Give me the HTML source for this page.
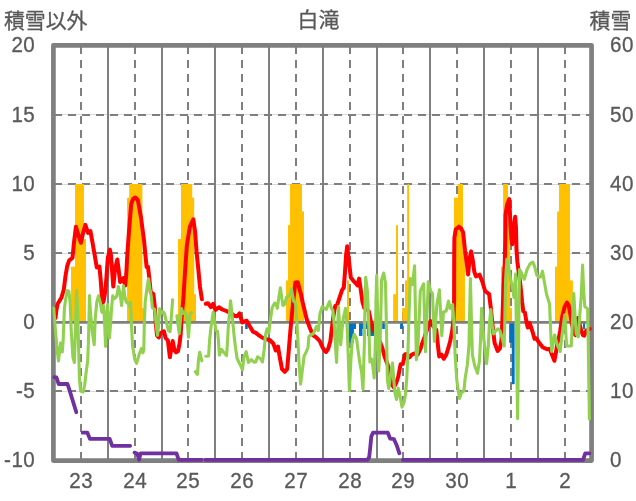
<!DOCTYPE html>
<html lang="ja"><head><meta charset="utf-8"><title>白滝</title>
<style>
html,body{margin:0;padding:0;background:#fff;}
body{width:636px;height:501px;overflow:hidden;}
svg{display:block;}
.t{font-family:"Liberation Sans","Noto Sans CJK JP",sans-serif;fill:#595959;stroke:#595959;stroke-width:0.3px;}
.n{font-size:20.6px;letter-spacing:0.5px;}
.k{font-size:20.9px;}
</style></head><body>
<svg width="636" height="501" viewBox="0 0 636 501">
<rect x="0" y="0" width="636" height="501" fill="#ffffff"/>
<g stroke="#d9d9d9" stroke-width="1" fill="none">
<line x1="53.4" y1="114.50" x2="591.5" y2="114.50"/>
<line x1="53.4" y1="184.50" x2="591.5" y2="184.50"/>
<line x1="53.4" y1="253.50" x2="591.5" y2="253.50"/>
<line x1="53.4" y1="391.50" x2="591.5" y2="391.50"/>
</g>
<g fill="#ffc000" stroke="none">
<rect x="71.20" y="266.80" width="4.00" height="55.20"/>
<rect x="75.20" y="184.00" width="8.60" height="138.00"/>
<rect x="83.80" y="239.20" width="2.10" height="82.80"/>
<rect x="127.30" y="197.80" width="2.10" height="124.20"/>
<rect x="129.40" y="184.00" width="12.80" height="138.00"/>
<rect x="142.20" y="308.20" width="1.70" height="13.80"/>
<rect x="178.10" y="239.20" width="2.90" height="82.80"/>
<rect x="181.00" y="184.00" width="11.10" height="138.00"/>
<rect x="192.10" y="197.80" width="2.00" height="124.20"/>
<rect x="194.10" y="294.40" width="1.80" height="27.60"/>
<rect x="286.20" y="280.60" width="1.80" height="41.40"/>
<rect x="288.00" y="225.40" width="2.20" height="96.60"/>
<rect x="290.20" y="184.00" width="11.60" height="138.00"/>
<rect x="301.80" y="211.60" width="2.10" height="110.40"/>
<rect x="347.00" y="280.60" width="1.90" height="41.40"/>
<rect x="393.40" y="294.40" width="2.60" height="27.60"/>
<rect x="396.00" y="225.40" width="2.00" height="96.60"/>
<rect x="402.30" y="308.20" width="2.90" height="13.80"/>
<rect x="405.20" y="280.60" width="2.20" height="41.40"/>
<rect x="407.40" y="184.00" width="1.70" height="138.00"/>
<rect x="454.20" y="197.80" width="3.90" height="124.20"/>
<rect x="458.10" y="184.00" width="4.80" height="138.00"/>
<rect x="462.90" y="253.00" width="1.90" height="69.00"/>
<rect x="501.10" y="266.80" width="2.20" height="55.20"/>
<rect x="503.30" y="184.00" width="4.60" height="138.00"/>
<rect x="507.90" y="211.60" width="2.20" height="110.40"/>
<rect x="510.10" y="308.20" width="1.80" height="13.80"/>
<rect x="555.00" y="266.80" width="2.30" height="55.20"/>
<rect x="557.30" y="211.60" width="1.90" height="110.40"/>
<rect x="559.20" y="184.00" width="10.60" height="138.00"/>
<rect x="569.80" y="280.60" width="2.90" height="41.40"/>
</g>
<g fill="#0070c0" stroke="none">
<rect x="245.30" y="322.00" width="2.20" height="6.90"/>
<rect x="348.80" y="322.00" width="4.90" height="20.70"/>
<rect x="353.70" y="322.00" width="2.20" height="6.90"/>
<rect x="359.10" y="322.00" width="3.20" height="13.80"/>
<rect x="362.30" y="322.00" width="4.70" height="6.90"/>
<rect x="367.00" y="322.00" width="7.00" height="13.80"/>
<rect x="382.40" y="322.00" width="2.30" height="6.90"/>
<rect x="400.30" y="322.00" width="2.50" height="6.90"/>
<rect x="509.40" y="322.00" width="2.50" height="20.70"/>
<rect x="511.90" y="322.00" width="2.50" height="62.10"/>
<rect x="583.20" y="322.00" width="1.80" height="6.90"/>
</g>
<g stroke="#7f7f7f" fill="none">
<line x1="54.00" y1="115.00" x2="591.55" y2="115.00" stroke-width="2" stroke-dasharray="8 6"/>
<line x1="54.00" y1="184.00" x2="591.55" y2="184.00" stroke-width="2" stroke-dasharray="8 6"/>
<line x1="54.00" y1="253.00" x2="591.55" y2="253.00" stroke-width="2" stroke-dasharray="8 6"/>
<line x1="54.00" y1="391.00" x2="591.55" y2="391.00" stroke-width="2" stroke-dasharray="8 6"/>
<line x1="53.40" y1="322.40" x2="591.55" y2="322.40" stroke-width="2.8"/>
<line x1="81.00" y1="46.00" x2="81.00" y2="460.55" stroke-width="2" stroke-dasharray="8 6"/>
<line x1="108.00" y1="45.35" x2="108.00" y2="460.55" stroke-width="2"/>
<line x1="135.00" y1="46.00" x2="135.00" y2="460.55" stroke-width="2" stroke-dasharray="8 6"/>
<line x1="162.00" y1="45.35" x2="162.00" y2="460.55" stroke-width="2"/>
<line x1="188.00" y1="46.00" x2="188.00" y2="460.55" stroke-width="2" stroke-dasharray="8 6"/>
<line x1="215.00" y1="45.35" x2="215.00" y2="460.55" stroke-width="2"/>
<line x1="242.00" y1="46.00" x2="242.00" y2="460.55" stroke-width="2" stroke-dasharray="8 6"/>
<line x1="269.00" y1="45.35" x2="269.00" y2="460.55" stroke-width="2"/>
<line x1="296.00" y1="46.00" x2="296.00" y2="460.55" stroke-width="2" stroke-dasharray="8 6"/>
<line x1="323.00" y1="45.35" x2="323.00" y2="460.55" stroke-width="2"/>
<line x1="350.00" y1="46.00" x2="350.00" y2="460.55" stroke-width="2" stroke-dasharray="8 6"/>
<line x1="377.00" y1="45.35" x2="377.00" y2="460.55" stroke-width="2"/>
<line x1="403.00" y1="46.00" x2="403.00" y2="460.55" stroke-width="2" stroke-dasharray="8 6"/>
<line x1="430.00" y1="45.35" x2="430.00" y2="460.55" stroke-width="2"/>
<line x1="457.00" y1="46.00" x2="457.00" y2="460.55" stroke-width="2" stroke-dasharray="8 6"/>
<line x1="484.00" y1="45.35" x2="484.00" y2="460.55" stroke-width="2"/>
<line x1="511.00" y1="46.00" x2="511.00" y2="460.55" stroke-width="2" stroke-dasharray="8 6"/>
<line x1="538.00" y1="45.35" x2="538.00" y2="460.55" stroke-width="2"/>
<line x1="565.00" y1="46.00" x2="565.00" y2="460.55" stroke-width="2" stroke-dasharray="8 6"/>
</g>
<g fill="#ffc000" stroke="none">
<rect x="71.20" y="266.80" width="4.00" height="54.20"/>
<rect x="75.20" y="184.00" width="8.60" height="137.00"/>
<rect x="83.80" y="239.20" width="2.10" height="81.80"/>
<rect x="127.30" y="197.80" width="2.10" height="123.20"/>
<rect x="129.40" y="184.00" width="12.80" height="137.00"/>
<rect x="142.20" y="308.20" width="1.70" height="12.80"/>
<rect x="178.10" y="239.20" width="2.90" height="81.80"/>
<rect x="181.00" y="184.00" width="11.10" height="137.00"/>
<rect x="192.10" y="197.80" width="2.00" height="123.20"/>
<rect x="194.10" y="294.40" width="1.80" height="26.60"/>
<rect x="286.20" y="280.60" width="1.80" height="40.40"/>
<rect x="288.00" y="225.40" width="2.20" height="95.60"/>
<rect x="290.20" y="184.00" width="11.60" height="137.00"/>
<rect x="301.80" y="211.60" width="2.10" height="109.40"/>
<rect x="347.00" y="280.60" width="1.90" height="40.40"/>
<rect x="393.40" y="294.40" width="2.60" height="26.60"/>
<rect x="396.00" y="225.40" width="2.00" height="95.60"/>
<rect x="402.30" y="308.20" width="2.90" height="12.80"/>
<rect x="405.20" y="280.60" width="2.20" height="40.40"/>
<rect x="407.40" y="184.00" width="1.70" height="137.00"/>
<rect x="454.20" y="197.80" width="3.90" height="123.20"/>
<rect x="458.10" y="184.00" width="4.80" height="137.00"/>
<rect x="462.90" y="253.00" width="1.90" height="68.00"/>
<rect x="501.10" y="266.80" width="2.20" height="54.20"/>
<rect x="503.30" y="184.00" width="4.60" height="137.00"/>
<rect x="507.90" y="211.60" width="2.20" height="109.40"/>
<rect x="510.10" y="308.20" width="1.80" height="12.80"/>
<rect x="555.00" y="266.80" width="2.30" height="54.20"/>
<rect x="557.30" y="211.60" width="1.90" height="109.40"/>
<rect x="559.20" y="184.00" width="10.60" height="137.00"/>
<rect x="569.80" y="280.60" width="2.90" height="40.40"/>
</g>
<g fill="#0070c0" stroke="none">
<rect x="245.30" y="323.80" width="2.20" height="5.10"/>
<rect x="348.80" y="323.80" width="4.90" height="18.90"/>
<rect x="353.70" y="323.80" width="2.20" height="5.10"/>
<rect x="359.10" y="323.80" width="3.20" height="12.00"/>
<rect x="362.30" y="323.80" width="4.70" height="5.10"/>
<rect x="367.00" y="323.80" width="7.00" height="12.00"/>
<rect x="382.40" y="323.80" width="2.30" height="5.10"/>
<rect x="400.30" y="323.80" width="2.50" height="5.10"/>
<rect x="509.40" y="323.80" width="2.50" height="18.90"/>
<rect x="511.90" y="323.80" width="2.50" height="60.30"/>
<rect x="583.20" y="323.80" width="1.80" height="5.10"/>
</g>
<rect x="53.40" y="45.35" width="538.15" height="415.20" fill="none" stroke="#7f7f7f" stroke-width="4.7" stroke-linejoin="round"/>
<g fill="none" stroke-linejoin="round" stroke-linecap="round">
<polyline stroke="#7030a0" stroke-width="3.8" points="54.3,377.2 56.5,377.5 58.6,384.0 67.5,384.0 69.9,391.4 76.3,412.2"/>
<polyline stroke="#7030a0" stroke-width="3.8" points="82.7,432.7 87.4,432.7 89.9,438.9 109.7,438.9 112.2,445.8 130.2,445.8"/>
<polyline stroke="#7030a0" stroke-width="3.8" points="134.5,452.6 137.3,453.8 139.1,459.8 140.5,453.4 176.5,453.3 178.7,459.8 201.7,459.8"/>
<polyline stroke="#7030a0" stroke-width="3.8" points="205.5,459.8 367.6,459.8 369.2,457.0 370.3,447.0 371.3,436.5 373.0,432.7 387.8,432.7 390.2,438.7 394.0,439.2 397.0,446.1 399.4,453.3"/>
<polyline stroke="#7030a0" stroke-width="3.8" points="402.9,459.8 583.1,459.8 585.2,453.3 589.4,453.3"/>
<polyline stroke="#ff0000" stroke-width="4.0" points="55.5,318.0 56.4,310.0 57.6,304.0 61.5,297.5 63.8,289.5 65.5,276.0 67.2,266.0 69.2,260.3 72.5,257.9 73.9,243.3 75.9,226.8 78.1,233.9 80.9,242.8 83.3,232.0 85.4,224.9 88.0,232.9 90.4,231.0 92.3,241.4 94.6,254.6 96.8,267.5 99.4,266.5 100.8,281.0 102.3,303.5 103.8,300.5 105.3,291.0 106.4,278.0 107.8,258.0 109.9,249.6 111.0,255.5 112.2,272.0 113.3,286.6 115.0,269.5 117.3,259.5 118.5,268.4 120.1,282.0 121.8,280.3 123.4,278.1 125.2,285.5 126.3,274.0 127.3,255.0 128.5,238.0 129.6,224.0 131.2,204.0 133.0,199.0 135.2,197.5 137.8,200.0 141.0,217.4 142.9,232.0 144.2,242.0 145.6,257.0 146.6,267.0 148.0,266.8 149.3,278.0 150.7,292.0 153.4,294.0 154.8,307.0 155.9,324.0 157.0,335.5 158.8,337.5 160.4,333.2 162.1,332.2 163.9,331.3 165.6,338.0 167.9,340.5 169.9,357.2 171.3,349.0 172.7,341.0 174.5,350.5 176.1,352.3 178.0,351.0 179.6,343.5 180.7,334.0 181.6,318.0 183.5,297.0 185.0,272.0 186.9,245.0 189.9,226.5 193.3,219.4 195.0,231.0 196.6,252.0 198.4,270.0 200.0,287.0 201.9,299.2"/>
<polyline stroke="#ff0000" stroke-width="4.0" points="205.8,303.8 208.0,303.2 210.9,307.2 213.2,303.8 215.4,310.0 218.9,307.2 222.3,309.5 226.8,311.2 231.4,313.4 234.2,315.7 237.1,316.3 239.6,313.4 242.2,322.5 244.5,321.4 246.7,320.8 249.6,326.0 253.0,331.6 255.8,332.8 259.0,335.3 262.0,337.5 265.4,339.0 269.7,340.0 273.3,343.5 275.8,350.5 278.0,346.5 279.8,357.5 282.0,369.0 284.8,371.8 287.2,369.0 288.8,350.0 290.4,330.5 292.0,313.5 293.7,297.0 295.4,282.5 297.8,282.2 299.5,289.0 301.0,294.5 302.7,302.5 304.6,310.5 306.7,319.3 309.7,327.5 312.8,335.0 316.2,337.3 319.7,341.0 322.6,347.5 324.8,351.0 326.0,352.0 328.2,348.8 330.4,341.0 331.6,330.5 333.5,315.7 335.2,306.0 336.9,305.5 339.2,298.7 342.0,290.1 343.8,287.5 345.0,271.8 346.1,254.8 347.2,246.2 348.9,260.4 350.8,277.5 353.4,280.9 356.3,283.8 357.6,285.5 359.1,278.6 360.3,286.5 362.5,302.1 364.2,307.8 365.9,308.9 368.8,311.2 371.1,322.5 373.3,330.5 375.5,332.5 377.3,334.0 380.2,342.6 382.4,348.2 384.7,357.0 387.6,364.5 389.4,372.1 391.2,383.5 393.8,387.5 396.2,383.0 398.3,376.5 400.6,364.3 402.8,364.0 405.1,354.2 406.9,354.0 409.6,357.3 411.9,354.5 414.7,353.4 417.8,354.5 420.4,349.0 422.1,343.7 424.4,337.5 426.4,331.5 428.6,325.0 430.5,321.0 433.0,326.0 436.3,329.8 437.9,345.0 439.2,356.5 441.5,354.7 443.8,358.8 446.2,354.8 448.3,348.2 450.2,341.0 452.2,331.0 453.5,320.0 454.1,300.0 454.2,260.0 454.4,238.0 455.7,229.6 458.9,226.7 461.2,228.6 463.1,232.4 465.0,250.3 466.9,264.5 468.1,274.5 469.7,258.0 471.1,251.4 472.8,260.4 474.3,271.8 476.0,276.4 479.5,274.7 482.3,281.5 485.1,291.0 489.1,294.1 490.8,307.8 492.5,325.0 494.6,343.0 497.7,351.0 500.0,348.2 501.5,340.0 502.3,322.0 503.0,302.0 503.8,280.0 504.8,262.0 505.3,240.0 505.5,215.0 507.0,205.0 509.3,199.0 510.0,214.0 510.6,228.0 511.3,238.0 512.2,244.2 513.2,236.0 514.2,224.0 515.2,216.8 516.0,228.0 516.5,250.0 517.4,262.0 518.8,273.0 520.4,285.0 522.1,302.0 523.3,311.2 524.9,312.5 526.6,322.5 527.8,327.5 529.4,322.8 531.2,327.5 532.9,333.0 534.5,338.8 536.2,338.2 539.2,342.8 542.7,347.2 547.0,349.3 549.9,348.9 552.1,355.1 554.4,360.8 556.1,351.7 557.4,343.0 558.8,338.0 560.2,330.5 562.4,315.7 564.7,306.6 566.9,302.6 568.6,304.9 570.4,314.6 572.1,324.8 573.8,332.8 575.5,335.1 576.6,322.5 578.0,318.0 579.5,323.7 581.2,330.5 582.9,335.1 584.3,335.6 586.3,330.5 588.0,329.9 589.7,328.8"/>
<polyline stroke="#92d050" stroke-width="3.1" points="53.8,308.0 55.0,325.0 57.0,349.0 58.5,361.0 59.8,349.0 60.6,343.0 61.4,345.0 62.3,352.0 63.2,340.0 64.4,308.0 66.1,296.5 67.4,290.5 68.9,291.3 70.1,302.0 71.2,330.0 72.9,357.0 74.4,362.5 75.4,330.0 76.5,290.5 77.6,310.0 78.4,340.0 79.4,378.0 80.6,391.0 83.2,392.0 84.6,385.5 86.2,372.0 87.7,360.5 88.5,340.0 89.5,295.5 90.6,314.0 92.2,331.0 94.2,344.8 95.2,319.0 96.8,302.0 98.5,295.8 100.2,302.0 101.9,312.3 103.6,305.5 104.7,325.0 105.6,346.5 106.6,319.0 107.6,304.3 108.7,325.0 109.5,338.0 110.5,325.0 111.6,307.8 112.7,295.8 114.4,298.7 116.7,296.4 118.4,286.5 120.1,294.0 121.6,305.5 122.6,296.0 123.5,285.8 124.8,296.4 126.3,302.0 128.0,303.4 129.7,306.6 130.6,302.1 131.4,324.0 132.6,346.0 134.8,359.6 136.6,363.4 139.3,353.9 141.5,348.4 142.9,352.8 143.8,350.0 144.3,325.0 145.2,302.0 146.7,290.0 148.5,278.8 149.9,288.4 151.3,296.4 152.4,307.8 154.7,309.5 156.2,324.8 157.5,335.3 158.7,324.8 159.6,308.9 161.0,313.4 162.7,311.7 164.4,313.4 166.6,322.5 168.3,330.5 170.1,331.6 171.2,319.1 172.6,299.8"/>
<polyline stroke="#92d050" stroke-width="3.1" points="176.9,315.7 179.2,333.6 181.4,308.6 183.3,313.4 185.6,312.4 187.1,320.0 188.5,337.3 190.2,313.4 191.6,312.5"/>
<polyline stroke="#92d050" stroke-width="3.1" points="195.2,371.6 197.5,374.4 198.4,360.8 199.7,352.2 200.7,356.2 201.8,360.8"/>
<polyline stroke="#92d050" stroke-width="3.1" points="205.8,356.2 208.6,356.0 209.6,340.0 210.9,328.2 213.2,312.3 214.9,323.7 216.0,330.5 217.5,331.1 218.4,340.0 219.4,355.1 221.7,349.4 224.0,352.8 226.6,355.6 227.6,340.0 228.4,324.8 230.6,300.9 232.5,319.1 234.3,337.5 235.5,347.5 237.1,358.5 239.9,364.2 242.5,369.9 243.9,357.3 246.2,351.7 248.4,362.5 251.3,359.6 254.1,362.1 255.7,362.0 257.6,356.8 260.3,358.5 262.5,361.9 264.2,349.4 265.2,338.0 266.0,332.5 267.1,328.8 268.8,332.8 270.5,319.1 272.2,307.8 274.5,303.2 276.2,303.8 277.3,308.3 279.0,296.4 280.4,287.8 281.9,298.7 283.0,305.5 284.7,304.3 286.4,297.5 288.7,295.8 290.4,293.5 291.5,289.0 292.7,296.4 293.8,301.5 295.5,302.6 296.7,319.1 297.8,338.0 298.9,360.8 300.6,384.1 302.4,369.9 304.1,356.2 306.3,351.7 308.0,347.5 308.9,336.5 310.9,334.5 313.2,333.9 314.9,330.5 316.3,326.5 318.3,330.5 320.0,313.4 322.3,306.6 324.5,308.3 326.4,309.3 327.8,305.5 329.5,301.5 331.2,307.8 332.9,310.6 334.3,325.0 335.4,345.0 336.6,362.5 337.5,335.0 338.5,306.6 339.5,325.0 340.7,344.8 342.0,330.0 343.2,319.0 345.5,308.3 347.0,324.8 348.0,349.0 349.4,390.8 350.9,360.0 352.3,341.0 354.2,334.3 356.6,339.0 358.0,350.0 360.0,364.0 361.6,372.0 363.0,389.4 364.4,342.0 365.1,300.0 365.7,277.2 367.5,292.0 368.8,325.0 369.9,361.9 371.6,359.0 372.8,366.4 374.2,378.0 375.3,345.0 376.0,300.0 376.7,275.2 377.8,320.0 378.7,371.0 379.8,352.0 380.6,325.0 381.6,280.0 383.7,273.0 385.5,283.0 386.5,330.0 387.4,380.0 388.8,388.6 391.0,372.0 392.5,363.0 393.7,378.0 394.8,392.0 396.5,399.4 398.2,388.4 399.9,395.2 402.0,407.1 404.2,402.0 405.6,393.5 406.8,378.0 408.0,350.0 409.0,315.0 410.4,278.6 412.5,284.5 414.6,265.8 415.5,315.0 416.4,359.6 417.8,349.4 419.1,320.0 420.3,290.8 423.6,283.8 424.6,320.0 425.5,351.7 427.0,315.0 428.3,281.9 430.7,290.8 432.5,293.7 433.5,320.0 434.4,341.4 436.8,305.0 439.4,289.9 440.6,313.0 441.8,335.6 443.5,312.0 446.2,311.0 448.5,301.0 450.0,308.5 452.6,304.5 453.8,321.0 455.1,355.0 456.8,380.0 459.5,398.5 461.6,392.6 463.9,391.0 465.2,378.0 467.3,365.0 469.0,345.0 469.7,310.0 470.4,278.6 471.3,315.0 472.4,355.0 474.9,366.4 477.5,373.3 479.5,360.8 480.5,340.0 481.6,308.3 482.9,330.5 484.2,342.0 485.1,350.0 486.6,363.6 488.4,345.0 489.3,325.0 490.8,309.5 492.0,324.8 493.7,333.9 496.0,330.5 498.2,328.8 499.9,330.5 501.6,336.2 504.2,346.0 505.0,310.0 505.6,280.0 506.8,259.3 508.5,266.0 510.2,277.5 512.5,287.0 513.9,297.4 515.6,274.0 516.5,340.0 517.6,418.6 518.6,340.0 519.5,269.5 521.0,271.8 523.3,277.5 524.3,279.2 527.1,269.5 530.0,263.9 532.8,262.1 534.5,266.1 536.8,275.2 539.1,277.5 540.8,276.4 542.5,271.2 544.2,281.0 546.5,294.1 549.6,304.3 550.4,325.0 551.7,351.5 554.6,335.0 557.2,344.7 560.2,351.5 562.4,332.0 564.7,315.1 565.7,330.0 566.6,346.0 571.3,346.0 572.6,318.0 573.8,293.5 574.9,313.4 576.2,334.0 578.3,336.8 579.5,319.1 581.2,296.4 582.6,265.0 583.6,290.0 584.8,306.6 587.6,308.9 588.2,340.0 588.8,380.0 589.4,419.0"/>
</g>
<g style="filter:grayscale(1)">
<text class="t k" x="3.9" y="27.8" text-anchor="start">積雪以外</text>
<text class="t k" x="318.5" y="27.0" text-anchor="middle">白滝</text>
<text class="t k" x="631.4" y="27.6" text-anchor="end">積雪</text>
<text class="t n" transform="translate(35.3,52.4) scale(1,1.070)" text-anchor="end">20</text>
<text class="t n" transform="translate(35.3,121.8) scale(1,1.070)" text-anchor="end">15</text>
<text class="t n" transform="translate(35.3,190.8) scale(1,1.070)" text-anchor="end">10</text>
<text class="t n" transform="translate(35.3,259.8) scale(1,1.070)" text-anchor="end">5</text>
<text class="t n" transform="translate(35.3,328.8) scale(1,1.070)" text-anchor="end">0</text>
<text class="t n" transform="translate(35.3,397.8) scale(1,1.070)" text-anchor="end">-5</text>
<text class="t n" transform="translate(35.3,467.0) scale(1,1.070)" text-anchor="end">-10</text>
<text class="t n" transform="translate(610.0,52.4) scale(1,1.070)" text-anchor="start">60</text>
<text class="t n" transform="translate(610.0,121.8) scale(1,1.070)" text-anchor="start">50</text>
<text class="t n" transform="translate(610.0,190.8) scale(1,1.070)" text-anchor="start">40</text>
<text class="t n" transform="translate(610.0,259.8) scale(1,1.070)" text-anchor="start">30</text>
<text class="t n" transform="translate(610.0,328.8) scale(1,1.070)" text-anchor="start">20</text>
<text class="t n" transform="translate(610.0,397.8) scale(1,1.070)" text-anchor="start">10</text>
<text class="t n" transform="translate(610.0,467.0) scale(1,1.070)" text-anchor="start">0</text>
<text class="t n" transform="translate(81.3,488.0) scale(1,1.070)" text-anchor="middle">23</text>
<text class="t n" transform="translate(135.3,488.0) scale(1,1.070)" text-anchor="middle">24</text>
<text class="t n" transform="translate(188.3,488.0) scale(1,1.070)" text-anchor="middle">25</text>
<text class="t n" transform="translate(242.3,488.0) scale(1,1.070)" text-anchor="middle">26</text>
<text class="t n" transform="translate(296.3,488.0) scale(1,1.070)" text-anchor="middle">27</text>
<text class="t n" transform="translate(350.3,488.0) scale(1,1.070)" text-anchor="middle">28</text>
<text class="t n" transform="translate(403.3,488.0) scale(1,1.070)" text-anchor="middle">29</text>
<text class="t n" transform="translate(457.3,488.0) scale(1,1.070)" text-anchor="middle">30</text>
<text class="t n" transform="translate(511.3,488.0) scale(1,1.070)" text-anchor="middle">1</text>
<text class="t n" transform="translate(565.3,488.0) scale(1,1.070)" text-anchor="middle">2</text>
</g>
</svg>
</body></html>
